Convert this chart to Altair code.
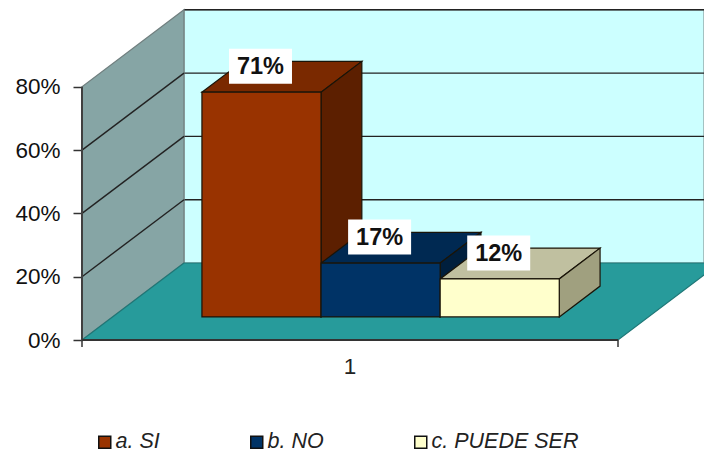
import altair as alt
import pandas as pd

categories = ["a. SI", "b. NO", "c. PUEDE SER"]
values = [71, 17, 12]
tick_values = [0, 20, 40, 60, 80]
category_label = "1"

front_colors = ["#993300", "#003366", "#FFFFCC"]
top_colors = ["#7A2900", "#002952", "#C0C0A0"]
side_colors = ["#5C1F00", "#001F3D", "#A0A07F"]

PX_PER_UNIT = 3.165
VIEW_W, VIEW_H = 622, 444
ZERO_PX = 332              # 0% below the top of the view
CAT_W = 536                # width of the single category on the front plane
DEPTH_X, DEPTH_V = 102, 77 / PX_PER_UNIT
AXIS_MAX = 80

x_scale = alt.Scale(domain=[0, VIEW_W], range=[0, VIEW_W], nice=False, zero=False)
y_scale = alt.Scale(domain=[-(VIEW_H - ZERO_PX) / PX_PER_UNIT, ZERO_PX / PX_PER_UNIT],
                    range=[VIEW_H, 0], nice=False, zero=False)
y_axis = alt.Axis(
    values=tick_values, labelExpr="datum.value + '%'", title=None, domain=False, grid=False,
    tickSize=9, tickColor="#333333", tickWidth=1.5, labelPadding=13,
    labelFont="Liberation Sans", labelFontSize=22.5, labelColor="#111111")
X = lambda f="x": alt.X(f"{f}:Q", scale=x_scale, axis=None)
Y = lambda f="y": alt.Y(f"{f}:Q", scale=y_scale, axis=y_axis)


def px(u, d=0.0):
    return u + d * DEPTH_X


def pv(v, d=0.0):
    return v + d * DEPTH_V


def vface(x0, x1, v0a, v1a, v0b, v1b, fill, stroke, sw=1.2, clip=False):
    df = pd.DataFrame({"x": [x0, x1], "y": [v0a, v0b], "y2": [v1a, v1b]})
    return alt.Chart(df).mark_area(fill=fill, stroke=stroke, strokeWidth=sw, orient="vertical",
                                   opacity=1, clip=clip).encode(x=X(), y=Y(), y2="y2:Q")


def hface(v0, v1, x0a, x1a, x0b, x1b, fill, stroke, sw=1.2, clip=False):
    df = pd.DataFrame({"y": [v0, v1], "x": [x0a, x0b], "x2": [x1a, x1b]})
    return alt.Chart(df).mark_area(fill=fill, stroke=stroke, strokeWidth=sw, orient="horizontal",
                                   opacity=1, clip=clip).encode(y=Y(), x=X(), x2="x2:Q")


def seg(x0, v0, x1, v1, color="#222222", sw=1.4, clip=False):
    df = pd.DataFrame({"x": [x0], "y": [v0], "x2": [x1], "y2": [v1]})
    return alt.Chart(df).mark_rule(color=color, strokeWidth=sw, clip=clip).encode(
        x=X(), y=Y(), x2="x2:Q", y2="y2:Q")


layers = []

layers.append(vface(px(0, 1), VIEW_W, pv(0, 1), pv(AXIS_MAX, 1), pv(0, 1), pv(AXIS_MAX, 1),
                    "#CCFFFF", "#8A9A9A", clip=True))
for t in tick_values[1:]:
    layers.append(seg(px(0, 1), pv(t, 1), VIEW_W, pv(t, 1), clip=True))

layers.append(vface(px(0, 0), px(0, 1), pv(0, 0), pv(AXIS_MAX, 0), pv(0, 1), pv(AXIS_MAX, 1),
                    "#86A5A5", "#707F7F"))
for t in tick_values[1:-1]:
    layers.append(seg(px(0, 0), pv(t, 0), px(0, 1), pv(t, 1)))

layers.append(hface(pv(0, 0), pv(0, 1), px(0, 0), px(CAT_W, 0), px(0, 1), px(CAT_W, 1),
                    "#279B9B", "#1F7777", clip=True))

bar_w = CAT_W / (len(values) + 1.5)
gap = bar_w * 0.75
D0, D1 = 0.3, 0.7
stroke = "#1A1408"
label_rows = []
front_rows = []
for i, (cat, val) in enumerate(zip(categories, values)):
    u0 = gap + i * bar_w
    u1 = u0 + bar_w
    layers.append(hface(pv(val, D0), pv(val, D1), px(u0, D0), px(u1, D0), px(u0, D1), px(u1, D1),
                        top_colors[i], stroke))
    layers.append(vface(px(u1, D0), px(u1, D1), pv(0, D0), pv(val, D0), pv(0, D1), pv(val, D1),
                        side_colors[i], stroke))
    front_rows.append({"cat": cat, "x": px(u0, D0), "x2": px(u1, D0), "y": pv(0, D0), "y2": pv(val, D0)})
    cx = (px(u0, D0) + px(u1, D0)) / 2 - 1
    label_rows.append({"x": cx - 31.5, "x2": cx + 31.5, "cx": cx,
                       "cy": pv(val, D0) + 25 / PX_PER_UNIT,
                       "y": pv(val, D0) + 8.5 / PX_PER_UNIT, "y2": pv(val, D0) + 43.5 / PX_PER_UNIT,
                       "label": f"{val}%"})

layers.append(alt.Chart(pd.DataFrame(front_rows)).mark_rect(stroke=stroke, strokeWidth=1.2, opacity=1).encode(
    x=X(), x2="x2:Q", y=Y(), y2="y2:Q",
    color=alt.Color("cat:N", scale=alt.Scale(domain=categories, range=front_colors),
                    legend=alt.Legend(
                        title=None, orient="none", legendX=12, legendY=423, direction="horizontal",
                        columns=3, columnPadding=86, symbolType="square", symbolSize=144,
                        symbolStrokeColor="#111111", symbolStrokeWidth=1.5, symbolOpacity=1,
                        labelFont="Liberation Sans", labelFontStyle="italic", labelFontSize=21.5,
                        labelColor="#222222", labelOffset=0, labelLimit=0))))

labels = pd.DataFrame(label_rows)
layers.append(alt.Chart(labels).mark_rect(fill="white", opacity=1).encode(
    x=X(), x2="x2:Q", y=Y(), y2="y2:Q"))
layers.append(alt.Chart(labels).mark_text(font="Liberation Sans", fontWeight="bold", fontSize=23.5,
                                          color="#111111", align="center", baseline="middle").encode(
    x=X("cx"), y=Y("cy"), text="label:N"))

layers.append(seg(0, 0, 0, AXIS_MAX, "#404040", 2))
layers.append(seg(0, 0, CAT_W, 0, "#333333", 2))
layers.append(seg(0, 0, 0, -7 / PX_PER_UNIT, "#333333", 1.5))
layers.append(seg(CAT_W, 0, CAT_W, -7 / PX_PER_UNIT, "#333333", 1.5))

layers.append(alt.Chart(pd.DataFrame({"x": [CAT_W / 2], "y": [-27 / PX_PER_UNIT], "t": [category_label]}))
              .mark_text(font="Liberation Sans", fontSize=22.5, color="#222222", align="center", baseline="middle")
              .encode(x=X(), y=Y(), text="t:N"))

chart = alt.layer(*layers).properties(
    width=VIEW_W, height=VIEW_H, padding={"left": 74, "top": 0, "right": 0, "bottom": 0},
    autosize=alt.AutoSizeParams(type="none"),
).configure_view(stroke=None)

chart.save("out.html", embed_options={"renderer": "svg", "actions": False})
